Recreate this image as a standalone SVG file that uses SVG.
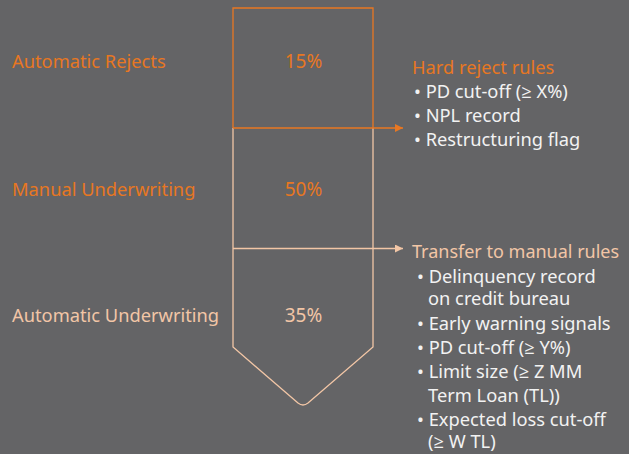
<svg xmlns="http://www.w3.org/2000/svg" width="629" height="454" viewBox="0 0 629 454">
<defs>
<style>
text{font-family:"Noto Sans","Open Sans","DejaVu Sans",sans-serif;font-size:18.3px}
.or{fill:#E87722}
.pe{fill:#F2C6A6}
.wh{fill:#F2F2F2}
.mid{text-anchor:middle}
.pct{font-size:19px}
.tr{font-size:18px}
.so{stroke:#E87722;stroke-width:1.3;fill:none}
.sp{stroke:#F2C6A6;stroke-width:1.3;fill:none}
</style>
<marker id="ao" viewBox="0 0 10 10" refX="10" refY="5" markerWidth="8" markerHeight="8" markerUnits="userSpaceOnUse" orient="auto"><path d="M0,0L10,5L0,10z" fill="#E87722"/></marker>
<marker id="ap" viewBox="0 0 10 10" refX="10" refY="5" markerWidth="8" markerHeight="8" markerUnits="userSpaceOnUse" orient="auto"><path d="M0,0L10,5L0,10z" fill="#F2C6A6"/></marker>
</defs>
<rect width="629" height="454" fill="#646466"/>
<g id="funnel">
<path class="sp" d="M233,128V347L298,403Q303,407 308,403L373,347V128"/>
<path class="so" d="M233,128V8H373V128"/>
</g>
<g id="automatic-rejects">
<text class="or" x="12" y="68">Automatic Rejects</text>
<text class="or mid pct" x="303.5" y="68">15%</text>
</g>
<g id="manual-underwriting">
<text class="or" x="12" y="196">Manual Underwriting</text>
<text class="or mid pct" x="303.5" y="196">50%</text>
</g>
<g id="automatic-underwriting">
<text class="pe" x="12" y="322">Automatic Underwriting</text>
<text class="pe mid pct" x="303.5" y="322">35%</text>
</g>
<g id="hard-reject-rules">
<text class="or" x="412" y="74">Hard reject rules</text>
<text class="wh" x="414" y="98">• PD cut-off (≥ X%)</text>
<text class="wh" x="414" y="122">• NPL record</text>
<text class="wh" x="414" y="146">• Restructuring flag</text>
</g>
<g id="transfer-rules">
<text class="pe tr" x="412" y="258">Transfer to manual rules</text>
<text class="wh" x="417" y="283">• Delinquency record<tspan x="428" dy="22">on credit bureau</tspan></text>
<text class="wh" x="417" y="330">• Early warning signals</text>
<text class="wh" x="417" y="354">• PD cut-off (≥ Y%)</text>
<text class="wh" x="417" y="378">• Limit size (≥ Z MM<tspan x="428" dy="24">Term Loan (TL))</tspan></text>
<text class="wh" x="417" y="426">• Expected loss cut-off<tspan x="428" dy="22">(≥ W TL)</tspan></text>
</g>
<g id="connectors">
<line class="so" x1="233" y1="128" x2="403" y2="128" marker-end="url(#ao)"/>
<line class="sp" x1="233" y1="248.5" x2="403" y2="248.5" marker-end="url(#ap)"/>
</g>
</svg>
